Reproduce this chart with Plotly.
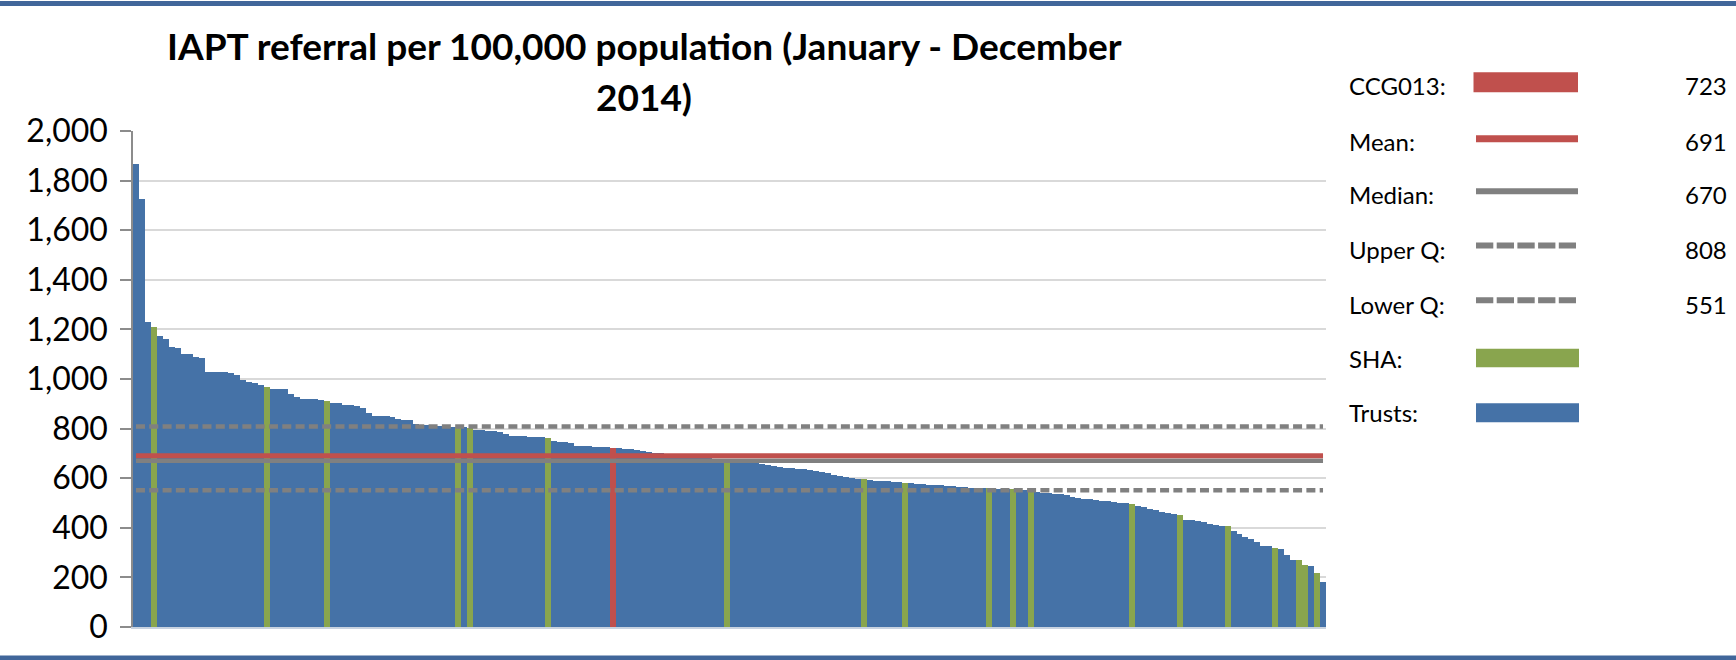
import plotly.graph_objects as go

# ---------------- data ----------------
title_line1 = "IAPT referral per 100,000 population (January - December"
title_line2 = "2014)"

referrals = [
    1866, 1725, 1231, 1211, 1173, 1160, 1128, 1127, 1101, 1100,
    1088, 1086, 1030, 1029, 1029, 1028, 1025, 1016, 998, 986,
    984, 975, 969, 961, 960, 959, 939, 926, 920, 919,
    918, 917, 911, 903, 902, 897, 895, 891, 882, 862,
    852, 851, 849, 846, 839, 836, 833, 819, 816, 813,
    811, 810, 809, 808, 807, 805, 801, 795, 793, 792,
    790, 785, 777, 771, 770, 769, 768, 767, 765, 763,
    752, 748, 744, 740, 730, 729, 728, 727, 726, 725,
    723, 721, 719, 716, 713, 710, 706, 703, 700, 697,
    694, 692, 690, 688, 686, 684, 682, 679, 676, 672,
    669, 667, 666, 664, 660, 656, 652, 648, 645, 643,
    641, 639, 636, 633, 629, 624, 619, 614, 609, 603,
    600, 598, 597, 592, 590, 589, 588, 586, 585, 581,
    579, 577, 575, 574, 572, 571, 569, 567, 565, 563,
    562, 561, 560, 559, 558, 557, 556, 555, 554, 552,
    549, 545, 542, 540, 538, 535, 531, 524, 519, 518,
    517, 511, 509, 507, 504, 502, 500, 498, 487, 482,
    476, 471, 464, 460, 455, 451, 433, 431, 429, 424,
    417, 410, 409, 407, 388, 374, 364, 355, 341, 328,
    325, 318, 313, 289, 272, 269, 249, 245, 218, 182,
]
sha_positions = [3, 22, 32, 54, 56, 69, 99, 122, 129, 143, 147, 150,
                 167, 175, 183, 191, 195, 196, 198]
ccg_position = 80
ccg_label = "CCG013"
ccg_value = 723

stat_labels = ["Mean", "Median", "Upper Q", "Lower Q"]
stat_values = [691, 670, 808, 551]

legend_labels = [ccg_label + ":", "Mean:", "Median:", "Upper Q:", "Lower Q:", "SHA:", "Trusts:"]
legend_values = [str(ccg_value)] + [str(v) for v in stat_values] + ["", ""]

y_ticks = list(range(0, 2001, 200))

# ---------------- style ----------------
BLUE = "#4572A7"
GREEN = "#89A54E"
RED = "#C0504D"
GREY = "#808080"
BORDER = "#41669A"
FONT = "Lato"

W, H = 1736, 660
ML, MR, MT, MB = 133, 410, 131, 33
PW, PH = W - ML - MR, H - MT - MB


def px(x):
    return (x - ML) / PW


def py(y):
    return (H - MB - y) / PH


n = len(referrals)
xs = list(range(n))
colors = []
for i in xs:
    if i == ccg_position:
        colors.append(RED)
    elif i in sha_positions:
        colors.append(GREEN)
    else:
        colors.append(BLUE)

fig = go.Figure()
fig.add_trace(go.Bar(x=xs, y=referrals, marker=dict(color=colors, line=dict(width=0)),
                     width=1.0, showlegend=False, hoverinfo="y"))

line_styles = {
    "Lower Q": dict(color=GREY, width=4.5, dash="9px,4.3px"),
    "Upper Q": dict(color=GREY, width=4.5, dash="9px,4.3px"),
    "Median": dict(color=GREY, width=4.5),
    "Mean": dict(color=RED, width=5),
}
for lab in ["Lower Q", "Upper Q", "Median", "Mean"]:
    v = stat_values[stat_labels.index(lab)]
    fig.add_trace(go.Scatter(x=[xs[0], xs[-1]], y=[v, v], mode="lines",
                             line=line_styles[lab], showlegend=False, hoverinfo="skip"))

shapes = []
# top and bottom frame bands
shapes.append(dict(type="rect", xref="paper", yref="paper", x0=px(0), x1=px(W),
                   y0=py(1), y1=py(6), fillcolor=BORDER, line=dict(width=0), layer="above"))
shapes.append(dict(type="rect", xref="paper", yref="paper", x0=px(0), x1=px(W),
                   y0=py(655.5), y1=py(660), fillcolor=BORDER, line=dict(width=0), layer="above"))

# legend swatches
sw_x0, sw_x1 = 1476, 1578
row_y = [82.3, 138.7, 191.2, 245.5, 300.2, 358, 412.7]
text_y = [86, 141, 194, 249, 304, 358, 412.5]
shapes.append(dict(type="rect", xref="paper", yref="paper", x0=px(1473.5), x1=px(sw_x1),
                   y0=py(row_y[0] - 10), y1=py(row_y[0] + 10), fillcolor=RED, line=dict(width=0)))
shapes.append(dict(type="rect", xref="paper", yref="paper", x0=px(sw_x0), x1=px(sw_x1),
                   y0=py(row_y[1] - 3.5), y1=py(row_y[1] + 3.5), fillcolor=RED, line=dict(width=0)))
shapes.append(dict(type="rect", xref="paper", yref="paper", x0=px(sw_x0), x1=px(sw_x1),
                   y0=py(row_y[2] - 3), y1=py(row_y[2] + 3), fillcolor=GREY, line=dict(width=0)))
for k in (3, 4):
    shapes.append(dict(type="line", xref="paper", yref="paper", x0=px(sw_x0), x1=px(sw_x0 + 100),
                       y0=py(row_y[k]), y1=py(row_y[k]),
                       line=dict(color=GREY, width=6, dash="17.3px,3.4px")))
shapes.append(dict(type="rect", xref="paper", yref="paper", x0=px(sw_x0), x1=px(1579),
                   y0=py(row_y[5] - 9.3), y1=py(row_y[5] + 9.3), fillcolor=GREEN, line=dict(width=0)))
shapes.append(dict(type="rect", xref="paper", yref="paper", x0=px(sw_x0), x1=px(1579),
                   y0=py(row_y[6] - 9.5), y1=py(row_y[6] + 9.5), fillcolor=BLUE, line=dict(width=0)))

annotations = []
annotations.append(dict(text="<b>" + title_line1 + "</b>", xref="paper", yref="paper",
                        x=px(644), y=py(45), xanchor="center", yanchor="middle", showarrow=False,
                        font=dict(family=FONT, size=37, color="#000000")))
annotations.append(dict(text="<b>" + title_line2 + "</b>", xref="paper", yref="paper",
                        x=px(644), y=py(96), xanchor="center", yanchor="middle", showarrow=False,
                        font=dict(family=FONT, size=37, color="#000000")))
for lab, val, ty in zip(legend_labels, legend_values, text_y):
    annotations.append(dict(text=lab, xref="paper", yref="paper", x=px(1347), y=py(ty),
                            xanchor="left", yanchor="middle", showarrow=False,
                            font=dict(family=FONT, size=24, color="#000000")))
    if val:
        annotations.append(dict(text=val, xref="paper", yref="paper", x=px(1729), y=py(ty),
                                xanchor="right", yanchor="middle", showarrow=False,
                                font=dict(family=FONT, size=24, color="#000000")))

fig.update_layout(
    width=W, height=H,
    margin=dict(l=ML, r=MR, t=MT, b=MB),
    paper_bgcolor="white", plot_bgcolor="white",
    bargap=0, showlegend=False,
    shapes=shapes, annotations=annotations,
    xaxis=dict(range=[-0.5, n - 0.5], showticklabels=False, showgrid=False, zeroline=False,
               showline=True, linecolor="#C9D3E0", linewidth=1.5, ticks=""),
    yaxis=dict(range=[0, 2000], tickvals=y_ticks, tickformat=",", showgrid=True,
               gridcolor="#D9D9D9", gridwidth=1.5, zeroline=False,
               showline=True, linecolor="#8C8C8C", linewidth=1.5,
               ticks="outside", ticklen=11, tickcolor="#8C8C8C", tickwidth=1.5,
               ticklabelstandoff=6,
               tickfont=dict(family=FONT, size=32, color="#000000")),
)

fig.write_html("out.html", config={"displayModeBar": False},
               post_script="document.body.style.margin='0';document.body.style.overflow='hidden';")
